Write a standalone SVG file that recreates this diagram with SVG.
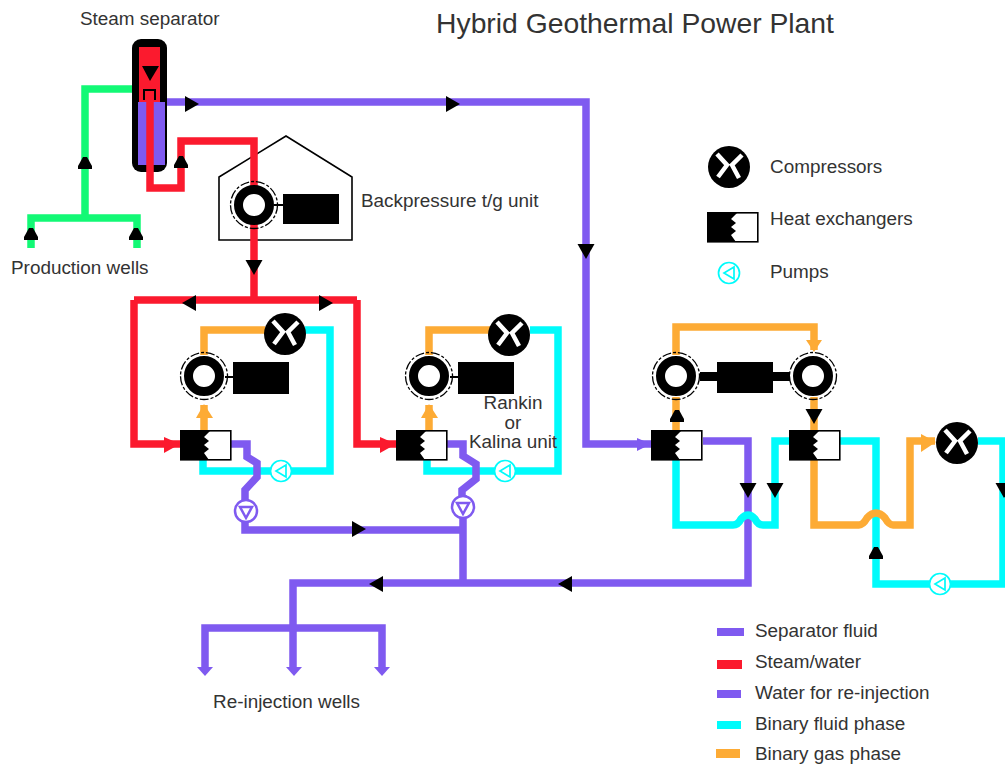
<svg xmlns="http://www.w3.org/2000/svg" width="1005" height="765" viewBox="0 0 1005 765">
<style>
text{font-family:"Liberation Sans",Arial,sans-serif;font-size:18.9px;fill:#333}
.p{fill:none;stroke-width:7.5;stroke-linejoin:miter}
.g{stroke:#12f975}.r{stroke:#fb1a2e}.v{stroke:#7f5af0}.c{stroke:#00fbfb}.o{stroke:#fdab35}
.ring{fill:#fff;stroke:#000;stroke-width:9}
.dash{fill:none;stroke:#000;stroke-width:1.3;stroke-dasharray:9 2 3 2}
.x{stroke:#fff;stroke-width:4.5;fill:none}
</style>
<defs>
<path id="ad" d="M-8.5,-7H8.5L0,8z" fill="#000"/>
<path id="au" d="M-2,-6H2L7,3V6H-7V3z" fill="#000"/>
<path id="ar" d="M-6,-8L8,0L-6,8z" fill="#000"/>
<path id="al" d="M6,-8L-8,0L6,8z" fill="#000"/>
<g id="gen"><circle r="15.5" class="ring"/><circle r="23.5" class="dash"/></g>
<g id="comp"><circle r="21" fill="#000"/><path class="x" d="M-12,-13L-2,-2L-11,10M13,-12L3,-2L10,11"/></g>
<g id="hx"><rect x="0.8" y="0.8" width="50" height="29" fill="#fff" stroke="#000" stroke-width="1.6"/><path d="M0,0H31L24,7L29,11L24,15L29,19L24,23L29,30H0z" fill="#000"/></g>
<g id="pc"><circle r="10.5" fill="#fff" stroke="#00fbfb" stroke-width="1.7"/><path d="M5,-6L-5,0L5,6z" fill="none" stroke="#00fbfb" stroke-width="1.7"/></g>
<g id="pv"><circle r="11" fill="#fff" stroke="#7f5af0" stroke-width="2.5"/><path d="M-6,-4H6L0,7z" fill="none" stroke="#7f5af0" stroke-width="2.5"/></g>
</defs>

<text x="80" y="25">Steam separator</text>
<text x="635" y="33" text-anchor="middle" style="font-size:28.3px">Hybrid Geothermal Power Plant</text>
<text x="361" y="207">Backpressure t/g unit</text>
<text x="11" y="274">Production wells</text>
<text x="213" y="708">Re-injection wells</text>

<g id="separator">
<rect x="132" y="39" width="35" height="133" rx="9" fill="#000"/>
<rect x="139" y="47" width="21" height="55" fill="#fb1a2e"/>
<rect x="138" y="102" width="27" height="63" fill="#7f5af0"/>
</g>

<g id="house"><path d="M219,240V177L286,136L352,177V240z" fill="#fff" stroke="#000" stroke-width="1.6"/></g>

<g id="connectors">
<path class="p g" d="M132,89H85V218M31,248V218H137V248"/>
<path class="p v" d="M167,102H586V444H651"/>
<path d="M144,100V90H155V100" fill="none" stroke="#000" stroke-width="2"/>
<path class="p r" d="M150,92V188H181V141H254V300M134,300H357M134,300V444H180M357,300V444H396"/>
<path class="p o" d="M204,355V330H265M429,355V330H490"/>
<path class="p o" d="M204,405V430M429,405V430"/>
<path class="p c" d="M203,460V471H330V330H305M427,459V471H558V330H530"/>
<path class="p v" d="M231,444H247V457L257,463V477L245,490V530H463M463,583V495M447,444H463V456L476,464V479L462,490V510"/>
<path class="p v" d="M703,441H748V583H293V670M205,670V628H382V670"/>
<path class="p o" d="M676,355V327H814V350M676,397V430M814,397V430"/>
<path class="p c" d="M676,460V525H733Q738,525 741,519Q748,511 755,519Q758,525 763,525H775V441H789"/>
<path class="p c" d="M840,441H876V584H1003V441H978"/>
<path class="p o" d="M814,460V525H859Q863,525 867,518Q876,508 885,518Q889,525 893,525H910V441H935"/>
<rect x="700" y="372" width="90" height="9" fill="#000"/>
<path d="M142,66H159L150,81z" fill="#000"/>
</g>

<g id="arrows">
<use href="#ar" x="191" y="104"/><use href="#ar" x="452" y="104"/><use href="#ad" x="586" y="251"/>
<use href="#au" x="85" y="163"/><use href="#au" x="31" y="234"/><use href="#au" x="136" y="234"/><use href="#au" x="181" y="162"/>
<use href="#ad" x="254" y="267"/><use href="#al" x="190" y="303"/><use href="#ar" x="325" y="303"/>
<path d="M164,437L180,444L164,453z" fill="#fb1a2e"/><path d="M380,437L396,444L380,453z" fill="#fb1a2e"/>
<path d="M204,404L213,418H196z" fill="#fdab35"/><path d="M429,404L438,418H421z" fill="#fdab35"/>
<use href="#ar" x="358" y="529"/><use href="#al" x="377" y="584"/><use href="#al" x="566" y="584"/>
<path d="M637,438L651,444L637,451z" fill="#7f5af0"/>
<use href="#au" x="677" y="416"/><use href="#ad" x="814" y="416"/>
<path d="M806,340H822L814,352z" fill="#fdab35"/>
<use href="#ad" x="748" y="490"/><use href="#ad" x="775" y="490"/><use href="#au" x="876" y="553"/><use href="#ad" x="1004" y="490"/>
<path d="M921,434L936,442L921,452z" fill="#fdab35"/>
<path d="M197,667H213L205,676z" fill="#7f5af0"/><path d="M286,667H302L294,676z" fill="#7f5af0"/><path d="M374,667H390L382,676z" fill="#7f5af0"/>
</g>

<g id="gen-backpressure"><rect x="274" y="204" width="12" height="2" fill="#000"/><use href="#gen" x="254" y="205"/><rect x="283" y="194" width="56" height="30" fill="#000"/></g>
<g id="unit1-turbine"><use href="#gen" x="204" y="376"/><rect x="225" y="376" width="10" height="2" fill="#000"/><rect x="233" y="362" width="56" height="32" fill="#000"/></g>
<g id="unit1-compressor"><use href="#comp" x="285" y="334"/></g>
<g id="unit1-hx"><use href="#hx" x="180" y="430"/></g>
<g id="unit1-pump-binary"><use href="#pc" x="281" y="471"/></g>
<g id="unit1-pump-water"><use href="#pv" x="246" y="511"/></g>
<g id="unit2-turbine"><use href="#gen" x="429" y="376"/><rect x="450" y="376" width="10" height="2" fill="#000"/><rect x="458" y="362" width="56" height="32" fill="#000"/></g>
<g id="unit2-compressor"><use href="#comp" x="509" y="335"/></g>
<g id="unit2-hx"><use href="#hx" x="396" y="430"/></g>
<g id="unit2-pump-binary"><use href="#pc" x="505" y="471"/></g>
<g id="unit2-pump-water"><use href="#pv" x="463" y="507"/></g>
<g id="unit3-turbine-a"><use href="#gen" x="676" y="376"/></g>
<g id="unit3-turbine-b"><use href="#gen" x="813" y="376"/></g>
<g id="unit3-generator"><rect x="717" y="362" width="56" height="31" fill="#000"/></g>
<g id="unit3-hx-a"><use href="#hx" x="651" y="430"/></g>
<g id="unit3-hx-b"><use href="#hx" x="789" y="430"/></g>
<g id="unit3-compressor"><use href="#comp" x="957" y="443"/></g>
<g id="unit3-pump"><use href="#pc" x="940" y="584"/></g>

<text x="513" y="409" text-anchor="middle">Rankin</text>
<text x="513" y="429" text-anchor="middle">or</text>
<text x="513" y="448" text-anchor="middle">Kalina unit</text>

<g id="legend">
<use href="#comp" x="729" y="167"/><text x="770" y="173">Compressors</text>
<use href="#hx" x="707" y="212"/><text x="770" y="225">Heat exchangers</text>
<use href="#pc" x="729" y="273"/><text x="770" y="278">Pumps</text>
<rect x="717" y="628" width="27" height="8" fill="#7f5af0"/><text x="755" y="637">Separator fluid</text>
<rect x="717" y="660" width="25" height="9" fill="#fb1a2e"/><text x="755" y="668">Steam/water</text>
<rect x="717" y="690" width="24" height="8" fill="#7f5af0"/><text x="755" y="699">Water for re-injection</text>
<rect x="717" y="721" width="24" height="8" fill="#00fbfb"/><text x="755" y="730">Binary fluid phase</text>
<rect x="716" y="749" width="24" height="9" fill="#fdab35"/><text x="755" y="760">Binary gas phase</text>
</g>
</svg>
